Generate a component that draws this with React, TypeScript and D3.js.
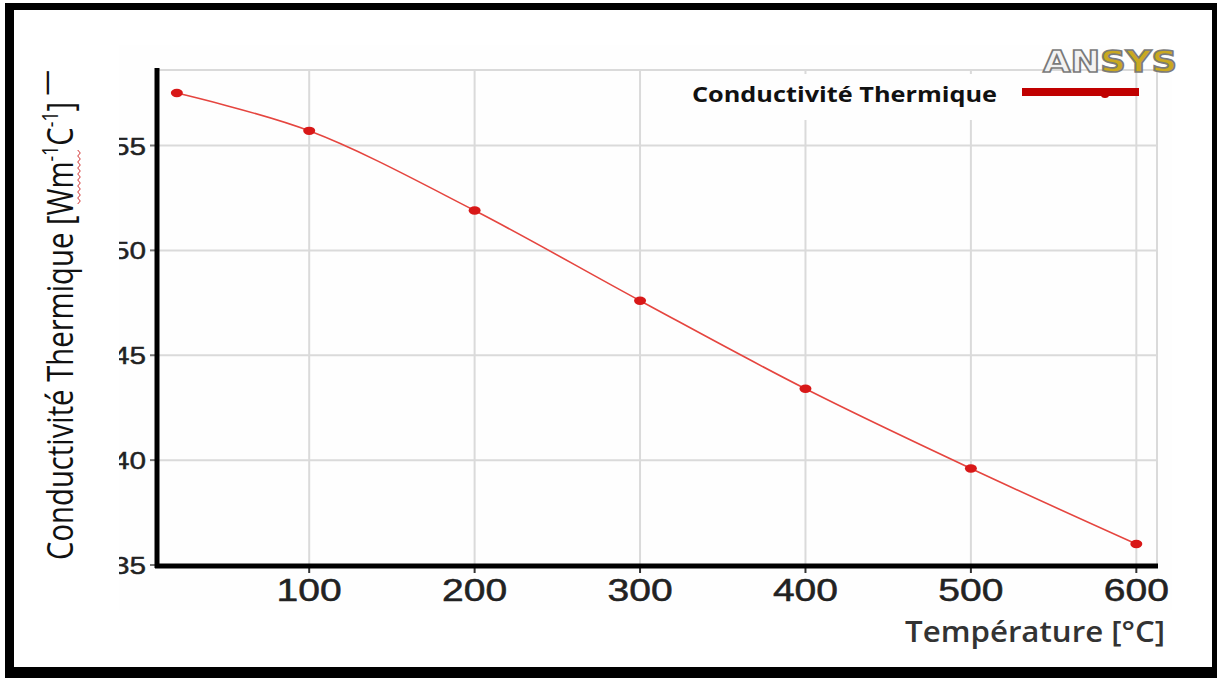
import React from "react";
import * as d3 from "d3";

const temps = [20, 100, 200, 300, 400, 500, 600];
const conductivity = [57.5, 55.7, 51.9, 47.6, 43.4, 39.6, 36.0];
const xTicks = [100, 200, 300, 400, 500, 600];
const yTicks = [35, 40, 45, 50, 55];
const seriesName = "Conductivité Thermique";
const xTitle = "Température [°C]";

const W = 1217;
const H = 678;

export default function App() {
  const x = d3.scaleLinear().domain([8, 612.5]).range([157, 1157]);
  const y = d3.scaleLinear().domain([35, 58.6]).range([565, 70]);
  const data = temps.map((t, i) => ({ t, k: conductivity[i] }));
  const line = d3
    .line<{ t: number; k: number }>()
    .x((d) => x(d.t))
    .y((d) => y(d.k))
    .curve(d3.curveCatmullRom.alpha(0.5));

  const [x0, x1] = x.range();
  const [y0, y1] = y.range();
  const grid = "#dadada";

  // spell-check wavy underline
  const wave: string[] = [];
  for (let i = 0; i <= 18; i++) {
    const yy = 150 + i * 3;
    const xx = 79 + (i % 2 === 0 ? -1.3 : 1.3);
    wave.push(`${i === 0 ? "M" : "L"}${xx},${yy}`);
  }

  return (
    <svg
      width={W}
      height={H}
      style={{ position: "absolute", left: 0, top: 0, background: "#fff" }}
    >
      {/* frame */}
      <rect x={5} y={3} width={1212} height={675} fill="#000" />
      <rect x={14} y={10} width={1198} height={657} fill="#fff" />
      {/* faint chart background */}
      <rect x={90} y={45} width={1082} height={565} fill="#fefefe" />

      {/* gridlines */}
      <g stroke={grid} strokeWidth={2}>
        {xTicks.map((t) => (
          <line key={"gx" + t} x1={x(t)} x2={x(t)} y1={y1} y2={y0} />
        ))}
        {yTicks
          .filter((v) => v > 35)
          .map((v) => (
            <line key={"gy" + v} x1={x0} x2={x1} y1={y(v)} y2={y(v)} />
          ))}
        <line x1={x0} x2={x1} y1={y1} y2={y1} />
        <line x1={x1} x2={x1} y1={y1} y2={y0} />
      </g>

      {/* legend box */}
      <rect x={644} y={74} width={416} height={46} fill="#fefefe" />

      {/* ticks */}
      <g stroke="#333" strokeWidth={2}>
        {xTicks.map((t) => (
          <line key={"tx" + t} x1={x(t)} x2={x(t)} y1={y0} y2={y0 + 8} />
        ))}
        {yTicks.map((v) => (
          <line key={"ty" + v} x1={x0 - 7} x2={x0} y1={y(v)} y2={y(v)} stroke="#777" />
        ))}
      </g>

      {/* axes */}
      <line x1={x0} x2={x0} y1={y1 - 2} y2={y0 + 3} stroke="#000" strokeWidth={5} />
      <line x1={x0 - 2} x2={x1 + 1} y1={y0 + 1} y2={y0 + 1} stroke="#000" strokeWidth={5} />

      {/* data line */}
      <path d={line(data) || ""} fill="none" stroke="#e5453f" strokeWidth={1.6} />
      {data.map((d) => (
        <ellipse key={"p" + d.t} cx={x(d.t)} cy={y(d.k)} rx={6} ry={4.2} fill="#d81818" />
      ))}

      {/* x tick labels */}
      {xTicks.map((t) => (
        <text
          key={"lx" + t}
          transform={`translate(${x(t)},${601}) scale(1.26,1)`}
          textAnchor="middle"
          fontFamily="Liberation Sans, Arial, sans-serif"
          fontSize={31}
          fill="#222"
          stroke="#222"
          strokeWidth={0.5}
        >
          {t}
        </text>
      ))}

      {/* y tick labels */}
      {yTicks.map((v) => (
        <text
          key={"ly" + v}
          transform={`translate(${146},${y(v) + 9}) scale(1.24,1)`}
          textAnchor="end"
          fontFamily="Liberation Sans, Arial, sans-serif"
          fontSize={24}
          fill="#222"
          stroke="#222"
          strokeWidth={0.4}
        >
          {v}
        </text>
      ))}

      {/* title box covering labels */}
      <rect x={14} y={10} width={105} height={640} fill="#fff" />

      {/* y title */}
      <text
        transform="translate(73,560) scale(1.22,1) rotate(-90)"
        fontFamily="Open Sans, Noto Sans, sans-serif"
        fontSize={30}
        fill="#111"
        textLength={490}
        lengthAdjust="spacingAndGlyphs"
      >
        Conductivité Thermique [Wm
        <tspan dy={-12} fontSize={18}>-1</tspan>
        <tspan dy={12}>C</tspan>
        <tspan dy={-12} fontSize={18}>-1</tspan>
        <tspan dy={12}>]</tspan>
        <tspan dy={-14} fontSize={26}> —</tspan>
      </text>
      <path d={wave.join("")} fill="none" stroke="#d03030" strokeWidth={1} />

      {/* x title */}
      <text
        x={905}
        y={642}
        fontFamily="Open Sans, Noto Sans, sans-serif"
        fontWeight={600}
        fontSize={28}
        fill="#333"
        textLength={260}
        lengthAdjust="spacingAndGlyphs"
      >
        {xTitle}
      </text>

      {/* legend */}
      <text
        x={692}
        y={101.5}
        fontFamily="Open Sans, Noto Sans, sans-serif"
        fontWeight={700}
        fontSize={21}
        fill="#111"
        textLength={305}
        lengthAdjust="spacingAndGlyphs"
      >
        {seriesName}
      </text>
      <ellipse cx={1105} cy={95} rx={4} ry={3} fill="#c00000" />
      <line x1={1022} x2={1139} y1={92} y2={92} stroke="#c00000" strokeWidth={8} />

      {/* ANSYS logo */}
      <text
        x={1043}
        y={72}
        fontFamily="DejaVu Sans, sans-serif"
        fontWeight={700}
        fontSize={31}
        stroke="#7a7a7a"
        strokeWidth={1.6}
        textLength={134}
        lengthAdjust="spacingAndGlyphs"
      >
        <tspan fill="#f2f2f2">AN</tspan>
        <tspan fill="#c9a820">SYS</tspan>
      </text>
    </svg>
  );
}
